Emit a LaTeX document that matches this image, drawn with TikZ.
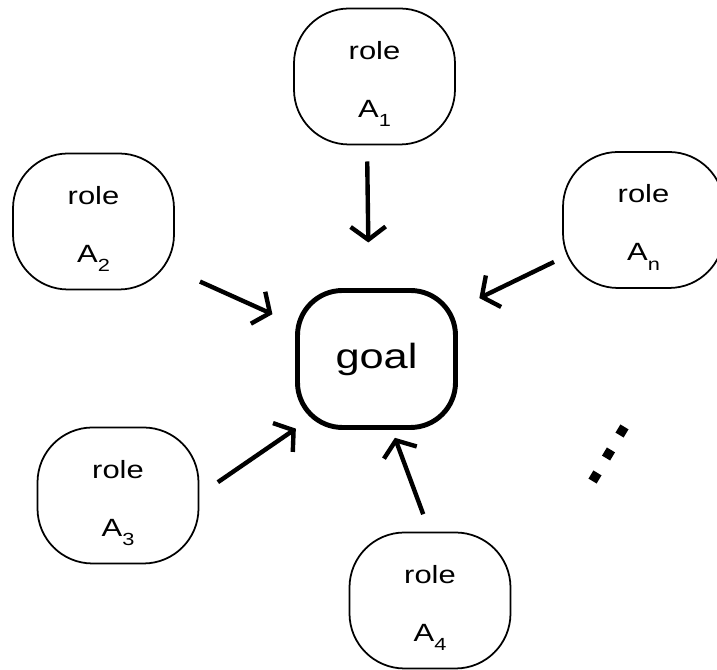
\documentclass[tikz,border=0pt]{standalone}
\usepackage{fontspec}
\setmainfont{Liberation Sans}
\usepackage{graphicx}
\usetikzlibrary{arrows.meta}

\newcommand{\roletext}[1]{\scalebox{1.24}[1]{\fontsize{14.2}{33}\selectfont\begin{tabular}{@{}c@{}}role\\A\raisebox{-5.5pt}{\fontsize{10}{10}\selectfont #1}\end{tabular}}}
\newcommand{\goaltext}{\scalebox{1.24}[1]{\fontsize{19.9}{24}\selectfont goal}}

\begin{document}
\begin{tikzpicture}
\tikzset{ >={Straight Barb[length=2.6mm,width=7mm]}, inner sep=0pt, outer sep=0pt,
  role/.style={draw, line width=1pt, rounded corners=11mm, minimum width=3.22cm, minimum height=2.72cm},
  goalbox/.style={draw, line width=2.8pt, rounded corners=9mm, minimum width=3.16cm, minimum height=2.74cm},
  link/.style={->, line width=2.5pt},
  dot/.style={fill=black, minimum size=0.19cm, rotate=59},
}
\clip (0,0) rectangle (14.34,13.4);
%\draw [lightgray, dashed](0,0) grid (14,13);

\node [goalbox] (goal) at (7.53,6.22) {\goaltext};

\node [role] (A1) at (7.49,11.87) {\roletext{1}};
\node [role] (A2) at (1.87,8.97)  {\roletext{2}};
\node [role] (A3) at (2.36,3.49)  {\roletext{3}};
\node [role] (A4) at (8.60,1.39)  {\roletext{4}};
\node [role] (An) at (12.87,9.00) {\roletext{n}};

\draw [link, shorten <=3.4mm, shorten >=9.6mm] ([xshift=-1.5mm]A1.south) -- ([xshift=-1.5mm]goal.north);
\draw [link, shorten <=5.7mm, shorten >=5.5mm] (A2.-31) -- (goal.157);
\draw [link, shorten <=4.7mm, shorten >=0.4mm] (A3.east) -- (goal.south west);
\draw [link, shorten <=3.9mm, shorten >=2.2mm] (A4.north) -- (goal.282);
\draw [link, shorten <=2.0mm, shorten >=5.3mm] (An.205) -- (goal.32);

% dots between A_n and A_4
\foreach \x/\y [count=\k] in {11.90/3.86, 12.17/4.32, 12.44/4.78}
  \node [dot] (dot\k) at (\x,\y) {};

\end{tikzpicture}
\end{document}
